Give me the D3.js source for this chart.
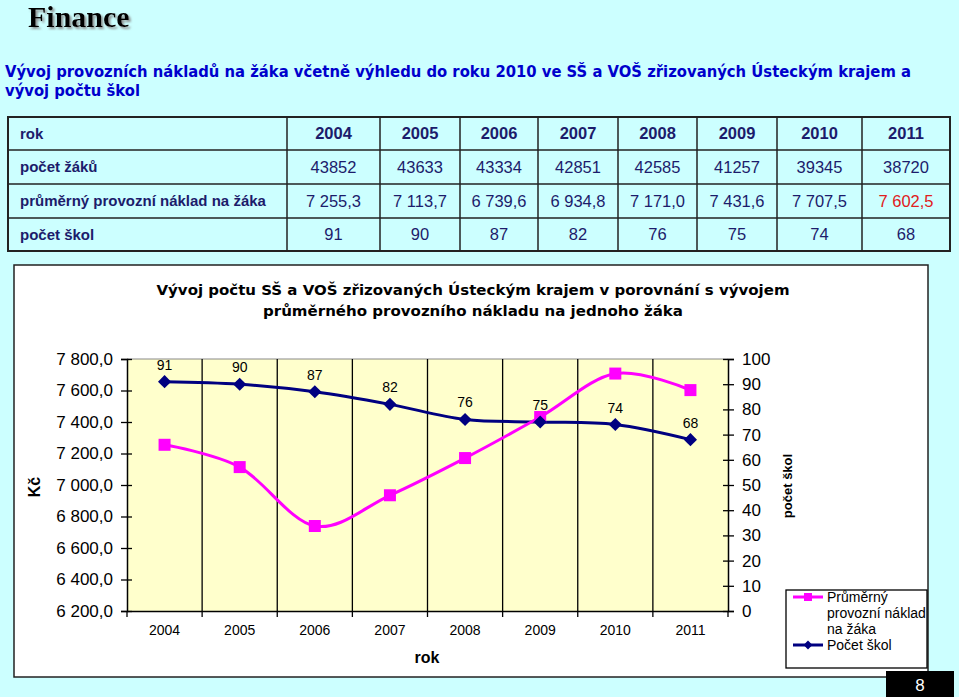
<!DOCTYPE html>
<html><head><meta charset="utf-8">
<script src="https://cdn.jsdelivr.net/npm/d3@7"></script>
<style>
html,body{margin:0;padding:0;background:#ccffff;}
svg{display:block;}
</style></head>
<body>
<svg id="c" width="959" height="697"></svg>
<script>
const years = ["2004","2005","2006","2007","2008","2009","2010","2011"];
const pupils = ["43852","43633","43334","42851","42585","41257","39345","38720"];
const costLabels = ["7 255,3","7 113,7","6 739,6","6 934,8","7 171,0","7 431,6","7 707,5","7 602,5"];
const cost = [7255.3,7113.7,6739.6,6934.8,7171.0,7431.6,7707.5,7602.5];
const schools = [91,90,87,82,76,75,74,68];
const rowLabels = ["rok","počet žáků","průměrný provozní náklad na žáka","počet škol"];
const leftTicks = [6200,6400,6600,6800,7000,7200,7400,7600,7800];
const rightTicks = [0,10,20,30,40,50,60,70,80,90,100];
const seriesNames = ["Průměrný provozní náklad na žáka","Počet škol"];

const svg = d3.select("#c");
const ARIAL = "Liberation Sans, Arial, sans-serif";
const VERD = "DejaVu Sans, Verdana, sans-serif";
const NAVY_T = "#1c1c6b";

const defs = svg.append("defs");
const f = defs.append("filter").attr("id","shadow").attr("x","-10%").attr("y","-20%").attr("width","130%").attr("height","150%");
f.append("feDropShadow").attr("dx",2).attr("dy",2).attr("stdDeviation",0.8).attr("flood-color","#888").attr("flood-opacity",0.9);

// background
svg.append("rect").attr("width",959).attr("height",697).attr("fill","#ccffff");

// Title
svg.append("text").attr("x",28).attr("y",27).attr("fill","#000").attr("filter","url(#shadow)")
  .attr("font-family","Liberation Serif, Times New Roman, serif").attr("font-weight","bold").attr("font-size",30).text("Finance");

// Subtitle
svg.append("text").attr("x",5).attr("y",77).attr("fill","#0000cc")
  .attr("font-family",VERD).attr("font-weight","bold").attr("font-size",15)
  .attr("textLength",906).attr("lengthAdjust","spacingAndGlyphs")
  .text("Vývoj provozních nákladů na žáka včetně výhledu do roku 2010 ve SŠ a VOŠ zřizovaných Ústeckým krajem a");
svg.append("text").attr("x",5).attr("y",96).attr("fill","#0000cc")
  .attr("font-family",VERD).attr("font-weight","bold").attr("font-size",15)
  .attr("textLength",135).attr("lengthAdjust","spacingAndGlyphs")
  .text("vývoj počtu škol");

// Table
const colEdges = [8,287,380,460,538,618,697,777,862,950];
const rowEdges = [117,150,184,218,251];
const tbl = svg.append("g");
tbl.append("rect").attr("x",8).attr("y",117).attr("width",942).attr("height",134)
  .attr("fill","none").attr("stroke","#222").attr("stroke-width",2);
rowEdges.slice(1,-1).forEach(y=>tbl.append("line").attr("x1",8).attr("x2",950).attr("y1",y).attr("y2",y).attr("stroke","#222").attr("stroke-width",1.5));
colEdges.slice(1,-1).forEach(x=>tbl.append("line").attr("x1",x).attr("x2",x).attr("y1",117).attr("y2",251).attr("stroke","#222").attr("stroke-width",1.5));
const rowsData = [years, pupils, costLabels, schools.map(String)];
rowLabels.forEach((lab,i)=>{
  const cy = (rowEdges[i]+rowEdges[i+1])/2;
  tbl.append("text").attr("x",20).attr("y",cy).attr("dy","0.36em").attr("fill",NAVY_T)
    .attr("font-family",ARIAL).attr("font-weight","bold").attr("font-size",15).text(lab);
  rowsData[i].forEach((v,j)=>{
    const cx = (colEdges[j+1]+colEdges[j+2])/2;
    tbl.append("text").attr("x",cx).attr("y",cy).attr("dy","0.36em").attr("text-anchor","middle")
      .attr("fill", (i===2 && j===7) ? "#e02020" : NAVY_T)
      .attr("font-family",ARIAL).attr("font-weight", i===0 ? "bold":"normal").attr("font-size",16.5)
      .text(v);
  });
});

// Chart frame
svg.append("rect").attr("x",14).attr("y",265).attr("width",914).attr("height",412)
  .attr("fill","#fff").attr("stroke","#222").attr("stroke-width",1.5);

// chart title
svg.append("text").attr("x",473).attr("y",295).attr("text-anchor","middle").attr("fill","#000")
  .attr("font-family",VERD).attr("font-weight","bold").attr("font-size",14)
  .attr("textLength",633).attr("lengthAdjust","spacingAndGlyphs")
  .text("Vývoj počtu SŠ a VOŠ zřizovaných Ústeckým krajem v porovnání s vývojem");
svg.append("text").attr("x",473).attr("y",316).attr("text-anchor","middle").attr("fill","#000")
  .attr("font-family",VERD).attr("font-weight","bold").attr("font-size",14)
  .attr("textLength",420).attr("lengthAdjust","spacingAndGlyphs")
  .text("průměrného provozního nákladu na jednoho žáka");

// plot area
const L=127,R=728,T=359,B=611;
const x = d3.scaleBand().domain(years).range([L,R]);
const yL = d3.scaleLinear().domain([6200,7800]).range([B,T]);
const yR = d3.scaleLinear().domain([0,100]).range([B,T]);

svg.append("rect").attr("x",L).attr("y",T).attr("width",R-L).attr("height",B-T).attr("fill","#ffffcc");
svg.append("line").attr("x1",L).attr("x2",R).attr("y1",T).attr("y2",T).attr("stroke","#888").attr("stroke-width",1);
years.slice(1).forEach(yr=>{
  const gx = x(yr);
  svg.append("line").attr("x1",gx).attr("x2",gx).attr("y1",T).attr("y2",B+6).attr("stroke","#000").attr("stroke-width",1.3);
});

// left axis
const gL = svg.append("g").attr("transform",`translate(${L},0)`)
  .call(d3.axisLeft(yL).tickValues(leftTicks).tickSize(6).tickPadding(8)
        .tickFormat(d=>d3.format(",.1f")(d).replace(",", " ").replace(".", ",")));
gL.select(".domain").attr("stroke","#000").attr("stroke-width",1.5);
gL.selectAll(".tick line").attr("stroke","#000").attr("stroke-width",1.3).attr("x1",5);
gL.selectAll(".tick text").attr("font-family",ARIAL).attr("font-size",17).attr("fill","#000");

// right axis
const gR = svg.append("g").attr("transform",`translate(${R},0)`)
  .call(d3.axisRight(yR).tickValues(rightTicks).tickSize(6).tickPadding(8));
gR.select(".domain").attr("stroke","#000").attr("stroke-width",1.5);
gR.selectAll(".tick line").attr("stroke","#000").attr("stroke-width",1.3).attr("x1",-5);
gR.selectAll(".tick text").attr("font-family",ARIAL).attr("font-size",17).attr("fill","#000");

// bottom axis
const gB = svg.append("g").attr("transform",`translate(0,${B})`)
  .call(d3.axisBottom(x).tickSize(0).tickPadding(14));
gB.select(".domain").attr("stroke","#000").attr("stroke-width",1.5);
gB.selectAll(".tick text").attr("font-family",ARIAL).attr("font-size",14).attr("fill","#000");
[L,R].forEach(gx=>svg.append("line").attr("x1",gx).attr("x2",gx).attr("y1",B).attr("y2",B+6).attr("stroke","#000").attr("stroke-width",1.3));

// axis titles
svg.append("text").attr("transform","translate(40,487) rotate(-90)").attr("text-anchor","middle")
  .attr("font-family",ARIAL).attr("font-weight","bold").attr("font-size",16).text("Kč");
svg.append("text").attr("x",427).attr("y",663).attr("text-anchor","middle")
  .attr("font-family",ARIAL).attr("font-weight","bold").attr("font-size",16).text("rok");
svg.append("text").attr("transform","translate(792,486) rotate(-90)").attr("text-anchor","middle")
  .attr("font-family",ARIAL).attr("font-weight","bold").attr("font-size",13).text("počet škol");

// series
const cx = d=>x(d)+x.bandwidth()/2;
const MAG="#ff00ff", NAV="#000080";
const lineCost = d3.line().x((d,i)=>cx(years[i])).y(d=>yL(d)).curve(d3.curveCatmullRom.alpha(0));
const lineSch = d3.line().x((d,i)=>cx(years[i])).y(d=>yR(d)).curve(d3.curveCatmullRom.alpha(0));
svg.append("path").attr("d",lineSch(schools)).attr("fill","none").attr("stroke",NAV).attr("stroke-width",3);
svg.append("path").attr("d",lineCost(cost)).attr("fill","none").attr("stroke",MAG).attr("stroke-width",3);

svg.selectAll(".sq").data(cost).enter().append("rect")
  .attr("x",(d,i)=>cx(years[i])-6).attr("y",d=>yL(d)-6).attr("width",12).attr("height",12)
  .attr("fill",MAG);
const diamond = d3.symbol().type(d3.symbolDiamond2).size(110);
svg.selectAll(".dm").data(schools).enter().append("path")
  .attr("d",diamond).attr("transform",(d,i)=>`translate(${cx(years[i])},${yR(d)})`)
  .attr("fill",NAV);
svg.selectAll(".lbl").data(schools).enter().append("text")
  .attr("x",(d,i)=>cx(years[i])).attr("y",d=>yR(d)-12).attr("text-anchor","middle")
  .attr("font-family",ARIAL).attr("font-size",14).attr("fill","#000").text(d=>d);

// legend
const lg = svg.append("g");
lg.append("rect").attr("x",786).attr("y",590).attr("width",141).attr("height",78)
  .attr("fill","#fff").attr("stroke","#000").attr("stroke-width",1.3);
lg.append("line").attr("x1",793).attr("x2",823).attr("y1",597).attr("y2",597).attr("stroke",MAG).attr("stroke-width",3);
lg.append("rect").attr("x",804).attr("y",593).attr("width",8).attr("height",8).attr("fill",MAG);
lg.append("line").attr("x1",793).attr("x2",823).attr("y1",645).attr("y2",645).attr("stroke",NAV).attr("stroke-width",3);
lg.append("path").attr("d",d3.symbol().type(d3.symbolDiamond2).size(50)).attr("transform","translate(808,645)").attr("fill",NAV);
[["Průměrný",602],["provozní náklad",618],["na žáka",634]].forEach(([t,y])=>
  lg.append("text").attr("x",827).attr("y",y).attr("font-family",ARIAL).attr("font-size",14).text(t));
lg.append("text").attr("x",827).attr("y",650).attr("font-family",ARIAL).attr("font-size",14).text(seriesNames[1]);

// page number
svg.append("rect").attr("x",886).attr("y",671).attr("width",68).attr("height",26).attr("fill","#000");
svg.append("text").attr("x",920).attr("y",691).attr("text-anchor","middle").attr("fill","#fff")
  .attr("font-family",ARIAL).attr("font-size",17).text("8");
</script>
</body></html>
